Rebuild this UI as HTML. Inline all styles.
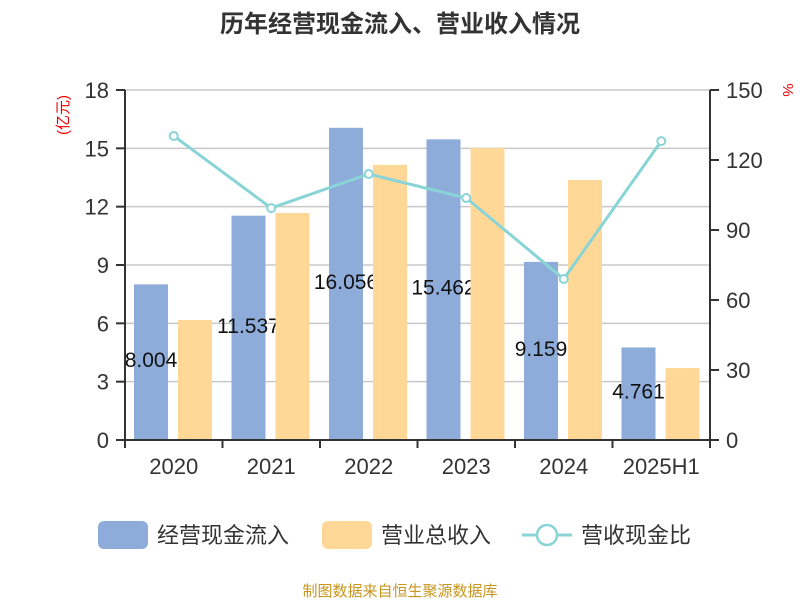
<!DOCTYPE html>
<html><head><meta charset="utf-8"><style>
body{margin:0;background:#fff;}
svg text{font-family:"Liberation Sans","Noto Sans CJK SC",sans-serif;}
</style></head><body>
<svg id="c" width="800" height="600" xmlns="http://www.w3.org/2000/svg">
<text x="400" y="32" text-anchor="middle" font-size="24" font-weight="bold" fill="#333">历年经营现金流入、营业收入情况</text>
<text transform="translate(68,115) rotate(-90)" text-anchor="middle" font-size="15" fill="#e00">(亿元)</text>
<text transform="translate(783,90) rotate(90)" text-anchor="middle" font-size="15" fill="#e00">%</text>
<g id="grid"></g><g id="bars"></g><g id="labels"></g><g id="bars2"></g><g id="line"></g><g id="axes"></g>
<g>
<rect x="98" y="521" width="50" height="28" rx="6" fill="#8eacda"/>
<text x="157" y="543" font-size="22" fill="#333">经营现金流入</text>
<rect x="322" y="521" width="50" height="28" rx="6" fill="#ffd898"/>
<text x="381" y="543" font-size="22" fill="#333">营业总收入</text>
<line x1="522" y1="535" x2="572" y2="535" stroke="#88d4d6" stroke-width="3"/>
<circle cx="547" cy="535" r="10" fill="#fff" stroke="#88d4d6" stroke-width="2.5"/>
<text x="581" y="543" font-size="22" fill="#333">营收现金比</text>
</g>
<text x="400" y="596" text-anchor="middle" font-size="15" fill="#c8961e">制图数据来自恒生聚源数据库</text>
</svg>
<script>
const categories=["2020","2021","2022","2023","2024","2025H1"];
const inflow=[8.004,11.537,16.056,15.462,9.159,4.761];
const inflowLabels=["8.004","11.537","16.056","15.462","9.159","4.761"];
const revenue=[6.17,11.68,14.15,15.02,13.37,3.70];
const ratio=[130.3,99.4,114,103.7,69,128.1];
const leftTicks=[0,3,6,9,12,15,18];
const rightTicks=[0,30,60,90,120,150];
const NS="http://www.w3.org/2000/svg";
const X0=125,X1=710,Y0=440,Y1=90,band=(X1-X0)/categories.length;
const yL=v=>Y0-(v/18)*(Y0-Y1);
const yR=v=>Y0-(v/150)*(Y0-Y1);
function mk(p,t,a){const e=document.createElementNS(NS,t);for(const k in a)e.setAttribute(k,a[k]);document.getElementById(p).appendChild(e);return e;}
leftTicks.forEach((t,i)=>{
 if(t>0){const g=mk("grid","line",{x1:X0,x2:X1,y1:yL(t),y2:yL(t),stroke:"#c8c8c8","stroke-width":1.5});
 
 }
 const tk=mk("axes","line",{x1:X0-9,x2:X0,y1:yL(t),y2:yL(t),stroke:"#333","stroke-width":2});
 
 
 const tx=mk("axes","text",{x:X0-16,y:yL(t)+8,"text-anchor":"end","font-size":22,fill:"#333"});tx.textContent=t;
 
 
});
rightTicks.forEach(t=>{
 const tk=mk("axes","line",{x1:X1,x2:X1+9,y1:yR(t),y2:yR(t),stroke:"#333","stroke-width":2});
 
 
 const tx=mk("axes","text",{x:X1+16,y:yR(t)+8,"font-size":22,fill:"#333"});tx.textContent=t;
 
 
});
[["left-axis",X0],["right-axis",X1]].forEach(([n,x])=>{const l=mk("axes","line",{x1:x,x2:x,y1:Y1,y2:Y0,stroke:"#333","stroke-width":2});
 
 });
const xa=mk("axes","line",{x1:X0,x2:X1,y1:Y0,y2:Y0,stroke:"#333","stroke-width":2});


for(let i=0;i<=categories.length;i++){const l=mk("axes","line",{x1:X0+i*band,x2:X0+i*band,y1:Y0,y2:Y0+8,stroke:"#333","stroke-width":2});
 
 }
const pts=[];
categories.forEach((c,i)=>{
 const bx=X0+i*band;
 const b=mk("bars","rect",{x:bx+9,y:yL(inflow[i]),width:34,height:Y0-yL(inflow[i]),fill:"#8eacda"});
 
 
 const lb=mk("labels","text",{x:bx+26,y:(yL(inflow[i])+Y0)/2+5,"text-anchor":"middle","font-size":21,fill:"#111"});lb.textContent=inflowLabels[i];
 
 
 const r=mk("bars2","rect",{x:bx+53,y:yL(revenue[i]),width:34,height:Y0-yL(revenue[i]),fill:"#ffd898"});
 
 
 const tx=mk("axes","text",{x:bx+band/2,y:474,"text-anchor":"middle","font-size":22,fill:"#333"});tx.textContent=c;
 
 
 pts.push([bx+band/2+0,yR(ratio[i])]);
});
const pl=mk("line","polyline",{points:pts.map(p=>p.join(",")).join(" "),fill:"none",stroke:"#88d4d6","stroke-width":3});


pts.forEach((p,i)=>{const c=mk("line","circle",{cx:p[0],cy:p[1],r:4,fill:"#fff",stroke:"#88d4d6","stroke-width":2});
 
 });
</script>
</body></html>
